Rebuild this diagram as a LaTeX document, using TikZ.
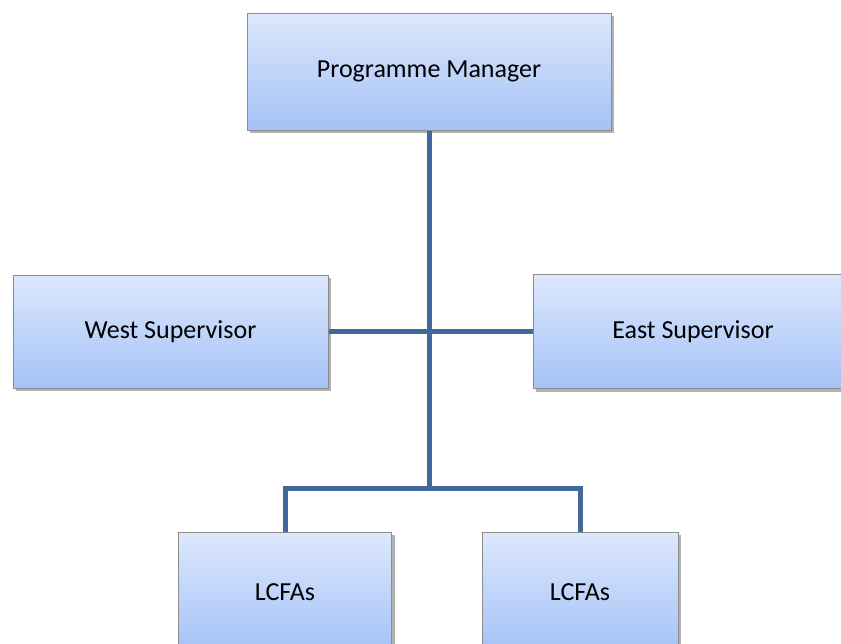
\documentclass[tikz,border=0pt]{standalone}
\usepackage{fontspec}
\setmainfont{Carlito}
\usetikzlibrary{shadows}

\definecolor{boxtop}{RGB}{221,232,252}
\definecolor{boxbottom}{RGB}{164,194,247}
\definecolor{boxedge}{RGB}{140,140,140}
\definecolor{linkblue}{RGB}{65,105,156}

\begin{document}
\begin{tikzpicture}[x=1pt,y=-1pt,
	post/.style={draw=boxedge, line width=1pt, top color=boxtop, bottom color=boxbottom,
		inner sep=0pt, font=\fontsize{26}{30}\selectfont,
		drop shadow={shadow xshift=3pt, shadow yshift=-3pt, opacity=.3, fill=black}},
	link/.style={draw=linkblue, line width=5pt}]
			\path[use as bounding box, clip] (0,0) rectangle (841,643);
			
			\node[post, minimum width=364pt, minimum height=117pt] (pm) at (429,71.5) {Programme Manager};
			\node[post, minimum width=315pt, minimum height=113pt] (west) at (170.5,331.5) {West Supervisor};
			\node[post, minimum width=320pt, minimum height=114pt] (east) at (693,331.5) {East Supervisor};
			\node[post, minimum width=213pt, minimum height=120pt] (lcfaA) at (285,592) {LCFAs};
			\node[post, minimum width=196pt, minimum height=120pt] (lcfaB) at (580,592) {LCFAs};
			
			\coordinate (split) at (429,488);
			\draw[link] (pm.south) -- (split);
			\draw[link] (west.east) -- (east.west);
			\draw[link] (lcfaA.north) |- (split) -| (lcfaB.north);
		\end{tikzpicture}
\end{document}
